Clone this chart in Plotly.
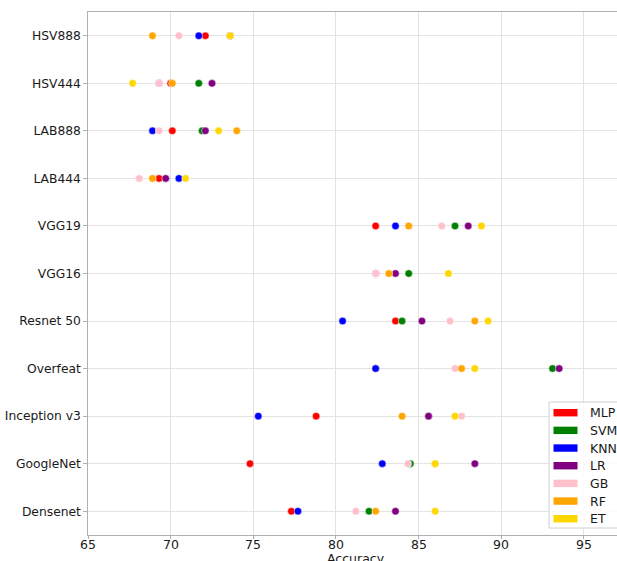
import plotly.graph_objects as go

# Accuracy (%) of each classifier on each feature set
categories = ["HSV888", "HSV444", "LAB888", "LAB444", "VGG19", "VGG16",
              "Resnet 50", "Overfeat", "Inception v3", "GoogleNet", "Densenet"]

mlp = [72.1, 70.0, 70.1, 69.3, 82.4, 82.4, 83.6, 82.4, 78.8, 74.8, 77.3]
svm = [73.6, 71.7, 71.9, 69.7, 87.2, 84.4, 84.0, 93.1, 85.6, 84.5, 82.0]
knn = [71.7, 69.3, 68.9, 70.5, 83.6, 82.4, 80.4, 82.4, 75.3, 82.8, 77.7]
lr = [73.6, 72.5, 72.1, 69.7, 88.0, 83.6, 85.2, 93.5, 85.6, 88.4, 83.6]
gb = [70.5, 69.3, 69.3, 68.1, 86.4, 82.4, 86.9, 87.2, 87.6, 84.35, 81.2]
rf = [68.9, 70.1, 74.0, 68.9, 84.4, 83.2, 88.4, 87.6, 84.0, 86.0, 82.4]
et = [73.6, 67.7, 72.9, 70.9, 88.8, 86.8, 89.2, 88.4, 87.2, 86.0, 86.0]

models = ["MLP", "SVM", "KNN", "LR", "GB", "RF", "ET"]
series = [mlp, svm, knn, lr, gb, rf, et]
colors = ["red", "green", "blue", "purple", "pink", "orange", "gold"]

x_ticks = [65, 70, 75, 80, 85, 90, 95]

W, H = 617, 561
L, R, T, B = 88, 0, 12, 26
pw, ph = W - L - R, H - T - B


def px_x(x):
    return (x - L) / pw


def px_y(y):
    return (H - B - y) / ph


fig = go.Figure()
for name, vals, col in zip(models, series, colors):
    fig.add_trace(go.Scatter(
        x=vals, y=categories, mode="markers", name=name,
        marker=dict(color=col, size=7.5, line=dict(color="white", width=0.5)),
        showlegend=False,
    ))

grid = "#e3e3e3"
spine = "#b0b0b0"
fig.update_layout(
    width=W, height=H,
    margin=dict(l=L, r=R, t=T, b=B, pad=0),
    paper_bgcolor="white", plot_bgcolor="white",
    font=dict(family="DejaVu Sans", size=12, color="#1a1a1a"),
    xaxis=dict(range=[65, 97], tickvals=x_ticks, showticklabels=False,
               showgrid=True, gridcolor=grid, gridwidth=1, zeroline=False,
               showline=True, linecolor=spine, linewidth=1.3, mirror=True,
               ticks="outside", ticklen=3, tickcolor=spine),
    yaxis=dict(type="category", categoryorder="array",
               categoryarray=categories[::-1], range=[-0.5, 10.5],
               showgrid=True, gridcolor=grid, gridwidth=1, zeroline=False,
               showline=True, linecolor=spine, linewidth=1.3,
               ticks="outside", ticklen=3.5, tickcolor=spine,
               tickfont=dict(size=12.3)),
)

# x tick labels, set close under the axis line
for v in x_ticks:
    fig.add_annotation(text=str(v), xref="x", yref="paper",
                       x=v, y=px_y(535), xanchor="center", yanchor="top",
                       showarrow=False, font=dict(size=12.5))

fig.add_annotation(text="Accuracy", xref="paper", yref="paper",
                   x=px_x(356), y=px_y(549), xanchor="center", yanchor="top",
                   showarrow=False, font=dict(size=12.5))

# Legend with rectangular colour patches
shapes = [dict(type="rect", xref="paper", yref="paper",
               x0=px_x(549), x1=px_x(622), y0=px_y(528), y1=px_y(402),
               line=dict(color="#d0d0d0", width=1),
               fillcolor="rgba(255,255,255,0.85)", layer="above")]
row0, step = 412.7, 17.67
for i, (name, col) in enumerate(zip(models, colors)):
    cy = row0 + i * step
    shapes.append(dict(type="rect", xref="paper", yref="paper",
                       x0=px_x(553.5), x1=px_x(577.5),
                       y0=px_y(cy + 3.7), y1=px_y(cy - 3.7),
                       line=dict(width=0), fillcolor=col, layer="above"))
    fig.add_annotation(text=name, xref="paper", yref="paper",
                       x=px_x(587.5), y=px_y(cy), xanchor="left",
                       yanchor="middle", showarrow=False,
                       font=dict(size=12.5))
fig.update_layout(shapes=shapes)

fig.write_html("out.html")
